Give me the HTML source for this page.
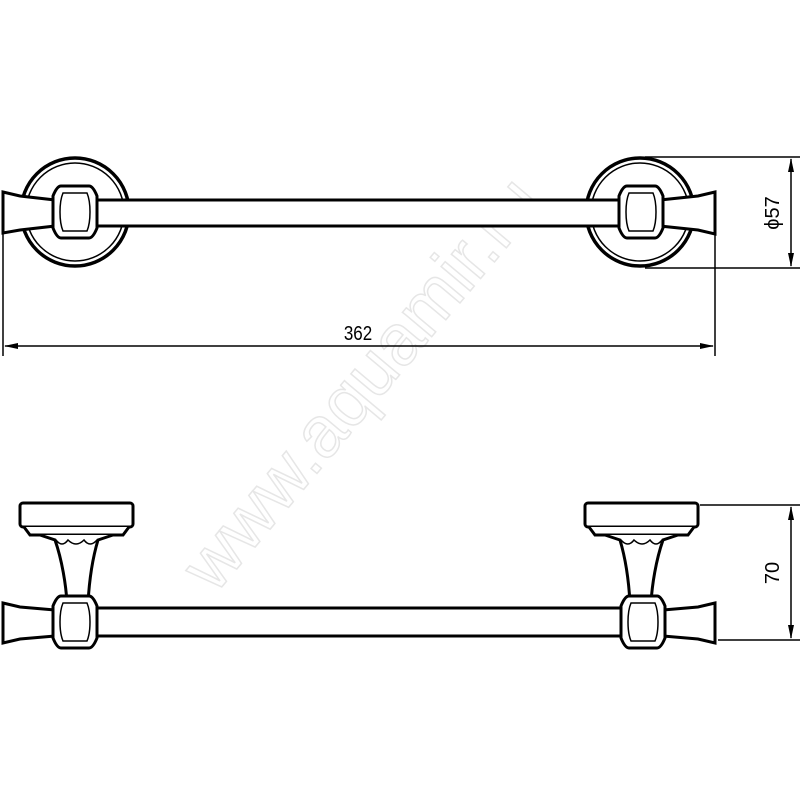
<!DOCTYPE html>
<html><head><style>body{margin:0;background:#fff}svg{display:block}</style></head><body>
<svg width="800" height="800" viewBox="0 0 800 800" xmlns="http://www.w3.org/2000/svg">
<defs>
<marker id="a" markerWidth="14" markerHeight="6" refX="13" refY="3" orient="auto" markerUnits="userSpaceOnUse"><path d="M0,0 L14,3 L0,6 Z" fill="#000"/></marker>
<g id="topEnd">
  <circle cx="0" cy="0" r="54" fill="#fff" stroke="#000" stroke-width="3.5"/>
  <circle cx="0" cy="0" r="49" fill="none" stroke="#000" stroke-width="1.5"/>
</g>
<g id="nut">
  <path d="M-14,-26 L14,-26 Q18,-26 22,-16 L22,16 Q18,26 14,26 L-14,26 Q-18,26 -22,16 L-22,-16 Q-18,-26 -14,-26 Z" fill="#fff" stroke="#000" stroke-width="3"/>
  <path d="M-12,-19 L12,-19 Q15,-12 15,0 Q15,12 12,19 L-12,19 Q-15,12 -15,0 Q-15,-12 -12,-19 Z" fill="none" stroke="#000" stroke-width="1.5"/>
</g>
</defs>
<g fill="none" stroke="#000">
<!-- watermark -->
<text x="0" y="0" transform="translate(215,595) rotate(-50)" font-family="Liberation Sans, sans-serif" font-size="72" fill="none" stroke="#e6e6e6" stroke-width="1.5">www.aquamir.ru</text>

<!-- TOP VIEW -->
<use href="#topEnd" x="75" y="212"/>
<use href="#topEnd" x="640" y="212"/>
<rect x="90" y="200" width="540" height="26" fill="#fff" stroke-width="3"/>
<path d="M3,192 L20,196 L55,200 L55,226 L20,230 L3,233 Z" fill="#fff" stroke-width="3"/>
<path d="M715,192 L698,196 L660,200 L660,226 L698,230 L715,234 Z" fill="#fff" stroke-width="3"/>
<use href="#nut" x="75" y="212"/>
<use href="#nut" x="641" y="212"/>

<!-- dims top -->
<g stroke-width="1.5">
<line x1="645" y1="157" x2="800" y2="157"/>
<line x1="645" y1="268" x2="800" y2="268"/>
<line x1="791" y1="185" x2="791" y2="159" marker-end="url(#a)"/>
<line x1="791" y1="240" x2="791" y2="266" marker-end="url(#a)"/>
<line x1="791" y1="185" x2="791" y2="240"/>
<line x1="3" y1="233" x2="3" y2="356"/>
<line x1="715" y1="234" x2="715" y2="356"/>
<line x1="360" y1="346" x2="5" y2="346" marker-end="url(#a)"/>
<line x1="360" y1="346" x2="713" y2="346" marker-end="url(#a)"/>
</g>
<text x="358" y="340" font-family="Liberation Sans Narrow, Liberation Sans, sans-serif" font-size="20" fill="#000" stroke="none" text-anchor="middle" transform="translate(358,340) scale(0.85,1) translate(-358,-340)">362</text>
<text transform="translate(779,213) rotate(-90)" font-family="Liberation Sans, sans-serif" font-size="20" fill="#000" stroke="none" text-anchor="middle">ϕ57</text>

<!-- SIDE VIEW -->
<rect x="20" y="503" width="113" height="24" rx="3" fill="#fff" stroke-width="3"/>
<path d="M24,527 L30,535 L123,535 L129,527" fill="#fff" stroke-width="3"/>
<path d="M40,535 L55,540 C62,560 66,585 67,603 L88,603 C89,585 92,560 98,540 L113,535" fill="#fff" stroke-width="3"/>
<path d="M56,540 Q62,548 68,540 Q76,548 84,540 Q90,548 97,540" stroke-width="1.5"/>
<path d="M3,603 L20,607 L55,610 L55,636 L20,639 L3,643 Z" fill="#fff" stroke-width="3"/>
<use href="#nut" x="75" y="622"/>
<rect x="97" y="608" width="527" height="28" fill="#fff" stroke-width="3"/>
<g transform="translate(720,0) scale(-1,1)">
<rect x="22" y="503" width="113" height="24" rx="3" fill="#fff" stroke-width="3"/>
<path d="M26,527 L32,535 L125,535 L131,527" fill="#fff" stroke-width="3"/>
<path d="M42,535 L57,540 C64,560 68,585 69,603 L90,603 C91,585 94,560 100,540 L115,535" fill="#fff" stroke-width="3"/>
<path d="M58,540 Q64,548 70,540 Q78,548 86,540 Q92,548 99,540" stroke-width="1.5"/>
<path d="M5,603 L22,607 L57,610 L57,636 L22,639 L5,643 Z" fill="#fff" stroke-width="3"/>
<use href="#nut" x="77" y="622"/>
</g>

<!-- dims side -->
<g stroke-width="1.5">
<line x1="700" y1="505" x2="800" y2="505"/>
<line x1="718" y1="640" x2="800" y2="640"/>
<line x1="791" y1="570" x2="791" y2="507" marker-end="url(#a)"/>
<line x1="791" y1="570" x2="791" y2="638" marker-end="url(#a)"/>
</g>
<text transform="translate(779,573) rotate(-90)" font-family="Liberation Sans, sans-serif" font-size="20" fill="#000" stroke="none" text-anchor="middle">70</text>
</g>
</svg>
</body></html>
